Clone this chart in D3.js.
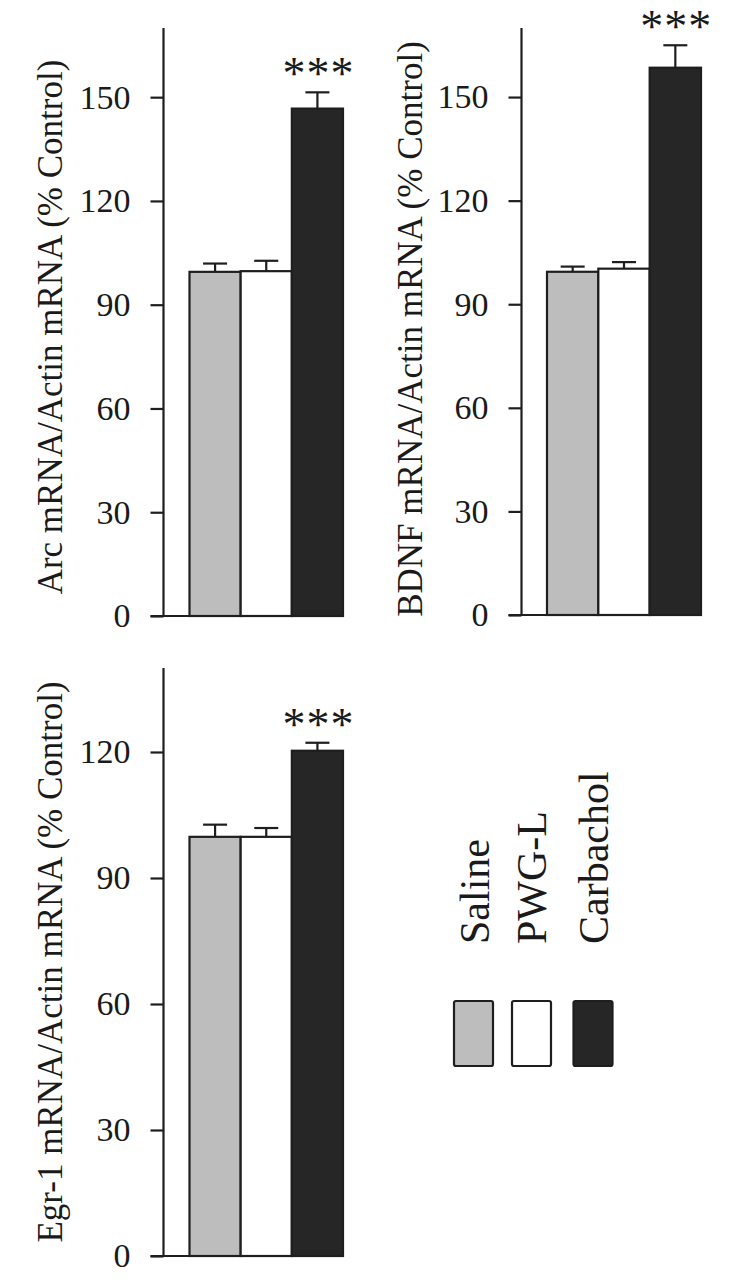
<!DOCTYPE html>
<html>
<head>
<meta charset="utf-8">
<script src="https://cdn.jsdelivr.net/npm/d3@7"></script>
<style>
  html, body { margin: 0; padding: 0; background: #fff; }
  svg { display: block; }
  text { font-family: "Liberation Serif", "Times New Roman", serif; fill: #1a1a1a; }
</style>
</head>
<body>
<svg id="chart" width="750" height="1287"></svg>
<script>
// ---- data ----
const groups = ["Saline", "PWG-L", "Carbachol"];
const groupColors = ["#bdbdbd", "#ffffff", "#262626"];

const arcMeans = [99.5, 99.7, 146.7];
const arcErrors = [2.4, 3.0, 4.7];

const bdnfMeans = [99.4, 100.3, 158.5];
const bdnfErrors = [1.5, 1.9, 6.5];

const egrMeans = [99.8, 99.8, 120.3];
const egrErrors = [2.9, 2.1, 1.9];

const significance = ["", "", "***"];

const ticksTall = [0, 30, 60, 90, 120, 150];
const ticksShort = [0, 30, 60, 90, 120];

const yTitles = [
  "Arc mRNA/Actin mRNA (% Control)",
  "BDNF mRNA/Actin mRNA (% Control)",
  "Egr-1 mRNA/Actin mRNA (% Control)"
];

// ---- layout ----
const svg = d3.select("#chart");
const ink = "#1e1e1e";

const panels = [
  { means: arcMeans, errs: arcErrors, ticks: ticksTall, yMax: 170, title: yTitles[0],
    axisX: 163.5, top: 28, bottom: 616, barL: 189.5, barR: 343, labelX: 62, labelY: 327 },
  { means: bdnfMeans, errs: bdnfErrors, ticks: ticksTall, yMax: 170, title: yTitles[1],
    axisX: 521.5, top: 28, bottom: 615, barL: 547, barR: 701, labelX: 421.5, labelY: 329 },
  { means: egrMeans, errs: egrErrors, ticks: ticksShort, yMax: 140, title: yTitles[2],
    axisX: 163.5, top: 668, bottom: 1256, barL: 189.5, barR: 343, labelX: 62, labelY: 962 }
];

panels.forEach(p => {
  const g = svg.append("g");
  const y = d3.scaleLinear().domain([0, p.yMax]).range([p.bottom, p.top]);
  const x = d3.scaleBand().domain(groups).range([p.barL, p.barR]).padding(0);

  // bars
  g.selectAll("rect.bar").data(groups).join("rect")
    .attr("class", "bar")
    .attr("x", d => x(d))
    .attr("width", x.bandwidth())
    .attr("y", (d, i) => y(p.means[i]))
    .attr("height", (d, i) => y(0) - y(p.means[i]))
    .attr("fill", (d, i) => groupColors[i])
    .attr("stroke", ink)
    .attr("stroke-width", 2.2);

  // error bars (upper only)
  const capW = 24;
  groups.forEach((d, i) => {
    const cx = x(d) + x.bandwidth() / 2;
    g.append("line")
      .attr("x1", cx).attr("x2", cx)
      .attr("y1", y(p.means[i])).attr("y2", y(p.means[i] + p.errs[i]))
      .attr("stroke", ink).attr("stroke-width", 2.2);
    g.append("line")
      .attr("x1", cx - capW / 2).attr("x2", cx + capW / 2)
      .attr("y1", y(p.means[i] + p.errs[i])).attr("y2", y(p.means[i] + p.errs[i]))
      .attr("stroke", ink).attr("stroke-width", 2.2);
    if (significance[i]) {
      g.append("text")
        .attr("x", cx + 1)
        .attr("y", y(p.means[i] + p.errs[i]) - 3)
        .attr("text-anchor", "middle")
        .attr("font-size", 46)
        .attr("letter-spacing", 1)
        .text(significance[i]);
    }
  });

  // y axis
  const axis = d3.axisLeft(y).tickValues(p.ticks).tickSize(13).tickPadding(20).tickSizeOuter(0);
  const ag = g.append("g").attr("transform", `translate(${p.axisX},0)`).call(axis);
  ag.select(".domain").attr("stroke", ink).attr("stroke-width", 2.2)
    .attr("d", `M0,${p.top}V${p.bottom}`);
  ag.selectAll(".tick line").attr("stroke", ink).attr("stroke-width", 2.2);
  ag.selectAll(".tick text").attr("font-size", 34).attr("fill", "#1a1a1a")
    .attr("font-family", "Liberation Serif, Times New Roman, serif");

  // baseline
  g.append("line")
    .attr("x1", p.axisX - 13).attr("x2", p.barR)
    .attr("y1", y(0)).attr("y2", y(0))
    .attr("stroke", ink).attr("stroke-width", 2.2);

  // y title
  g.append("text")
    .attr("transform", `translate(${p.labelX},${p.labelY}) rotate(-90)`)
    .attr("text-anchor", "middle")
    .attr("font-size", 35)
    .text(p.title);
});

// ---- legend ----
const leg = svg.append("g");
groups.forEach((d, i) => {
  leg.append("rect")
    .attr("x", [454, 512, 573.5][i])
    .attr("y", 1001)
    .attr("width", 39)
    .attr("height", 65)
    .attr("rx", 2)
    .attr("fill", groupColors[i])
    .attr("stroke", ink)
    .attr("stroke-width", 2.2);
  leg.append("text")
    .attr("transform", `translate(${[489, 546, 608][i]},944) rotate(-90)`)
    .attr("text-anchor", "start")
    .attr("font-size", 42)
    .text(d);
});
</script>
</body>
</html>
